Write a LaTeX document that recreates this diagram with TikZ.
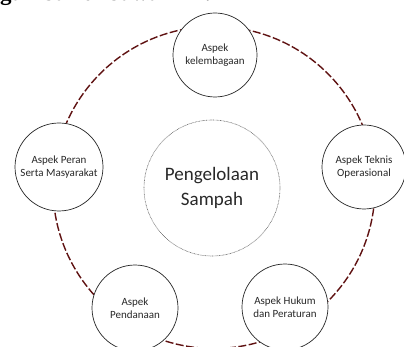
\documentclass[tikz,border=0pt]{standalone}
\usepackage{fontspec}
\setmainfont{Carlito}
\newfontfamily\headfont{Liberation Serif}
\definecolor{ringred}{RGB}{95,18,18}
\definecolor{txtgray}{RGB}{40,40,40}
\begin{document}
\begin{tikzpicture}[x=1pt,y=-1pt,
  aspect/.style={circle, draw=black!85, line width=0.7pt, fill=white, inner sep=0pt,
    align=center, text=txtgray, font=\fontsize{11}{13}\selectfont},
  core/.style={circle, draw=black!60, line width=0.6pt, dash pattern=on 0.7pt off 0.7pt,
    fill=white, inner sep=0pt, align=center, text=txtgray, font=\fontsize{19}{25}\selectfont},
  ring/.style={draw=ringred, line width=1.4pt, dash pattern=on 8pt off 2.5pt}
]
\useasboundingbox (0,0) rectangle (404,347);
\coordinate (ringc) at (214,187.5);
\draw[ring] (ringc) circle[radius=161];
\node[anchor=base west, inner sep=0pt, font=\headfont\bfseries\fontsize{23}{26}\selectfont] (head) at (0,1) {gambar di bawah ini:};
\node[core, minimum size=136pt] (center) at (212,188) {Pengelolaan\\Sampah};
\node[aspect, minimum size=84pt] (top) at (215,55) {Aspek\\kelembagaan};
\node[aspect, minimum size=88pt] (left) at (59,167) {Aspek Peran\\Serta Masyarakat};
\node[aspect, minimum size=84pt] (right) at (364,167) {Aspek Teknis\\Operasional};
\node[aspect, minimum size=86pt] (bl) at (135,308) {Aspek\\Pendanaan};
\node[aspect, minimum size=86pt] (br) at (285,307) {Aspek Hukum\\dan Peraturan};
\end{tikzpicture}
\end{document}
